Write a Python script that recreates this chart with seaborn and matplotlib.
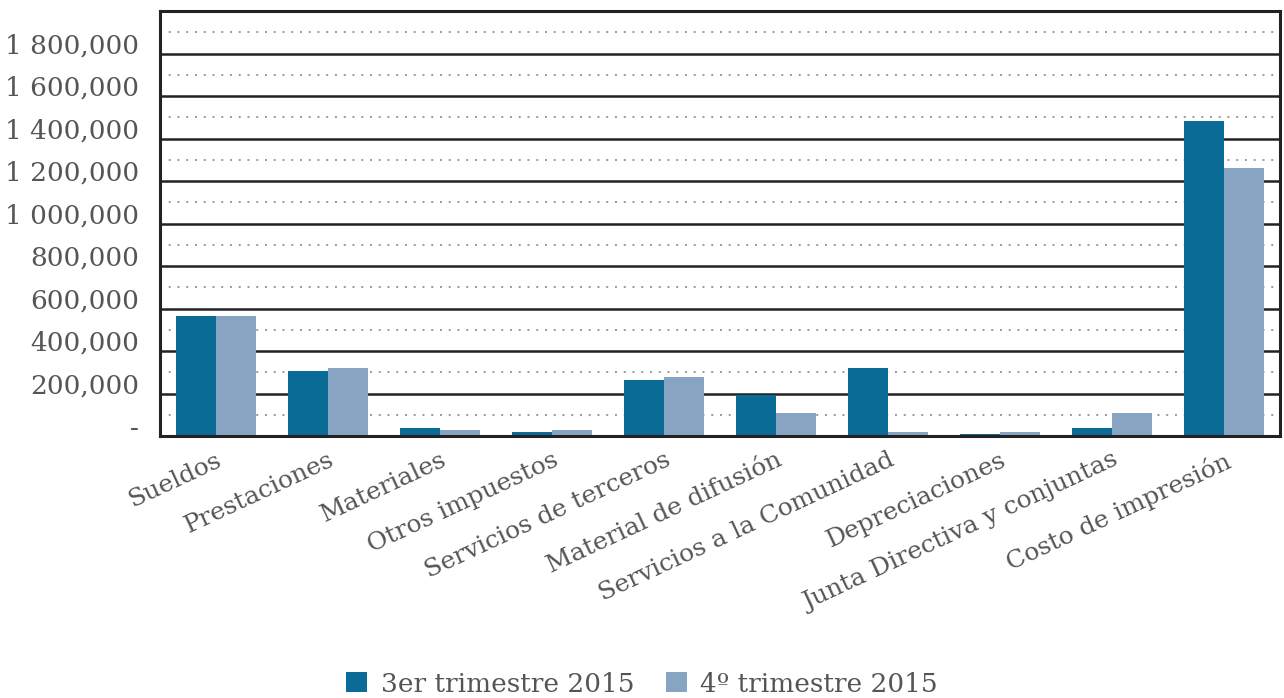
import matplotlib
matplotlib.use("Agg")
import matplotlib.pyplot as plt
import matplotlib.transforms as mtransforms
from matplotlib.ticker import MultipleLocator, FixedLocator
from matplotlib.patches import Patch
import seaborn as sns
import pandas as pd

categories = ["Sueldos", "Prestaciones", "Materiales", "Otros impuestos",
              "Servicios de terceros", "Material de difusión",
              "Servicios a la Comunidad", "Depreciaciones",
              "Junta Directiva y conjuntas", "Costo de impresión"]
series_names = ["3er trimestre 2015", "4º trimestre 2015"]
q3_values = [565000, 306000, 37000, 19000, 263000, 193000, 320000, 8000, 36000, 1482000]
q4_values = [565000, 320000, 28000, 28000, 278000, 108000, 17000, 17000, 107000, 1261000]
y_ticks = [0, 200000, 400000, 600000, 800000, 1000000, 1200000, 1400000,
           1600000, 1800000, 2000000]
y_tick_labels = ["-", "200,000", "400,000", "600,000", "800,000", "1 000,000",
                 "1 200,000", "1 400,000", "1 600,000", "1 800,000", ""]

colors = ["#0a6b97", "#87a5c2"]
text_color = "#555555"

sns.set_theme(style="white")
plt.rcParams["font.family"] = ["DejaVu Serif", "DejaVu Sans"]

df = pd.DataFrame({
    "categoria": categories * 2,
    "serie": [series_names[0]] * len(categories) + [series_names[1]] * len(categories),
    "valor": q3_values + q4_values,
})

fig = plt.figure(figsize=(12.84, 6.98), dpi=100)
ax = fig.add_axes([160 / 1284, 1 - 436 / 698, 1120 / 1284, 425 / 698])

sns.barplot(data=df, x="categoria", y="valor", hue="serie", order=categories,
            hue_order=series_names, palette=colors, width=0.714, saturation=1,
            edgecolor="none", linewidth=0, legend=False, ax=ax)

ax.set_ylim(0, 2000000)
ax.set_xlim(-0.5, len(categories) - 0.5)
ax.yaxis.set_major_locator(FixedLocator(y_ticks))
ax.set_yticklabels(y_tick_labels)
ax.yaxis.set_minor_locator(MultipleLocator(100000))
ax.set_axisbelow(True)
ax.grid(axis="y", which="major", color="#222222", linewidth=1.8, linestyle="-")
ax.grid(axis="y", which="minor", color="#999999", linewidth=1.4, linestyle=(0, (1, 3.5)))
ax.grid(axis="x", visible=False)
ax.set_xlabel("")
ax.set_ylabel("")

ax.tick_params(axis="y", which="both", length=0, pad=15, labelsize=19, labelcolor=text_color)
ax.tick_params(axis="x", length=0, pad=9, labelsize=18, labelcolor=text_color)

offset = mtransforms.ScaledTranslation(0, 10 / 100, fig.dpi_scale_trans)
for lbl in ax.get_yticklabels():
    lbl.set_transform(lbl.get_transform() + offset)

for lbl in ax.get_xticklabels():
    lbl.set_rotation(25)
    lbl.set_ha("right")
    lbl.set_rotation_mode("anchor")

for sp in ax.spines.values():
    sp.set_visible(True)
    sp.set_color("#222222")
    sp.set_linewidth(2.2)

handles = [Patch(facecolor=c, edgecolor="none") for c in colors]
fig.legend(handles, series_names, loc="center", bbox_to_anchor=(0.5, 1 - 684 / 698),
           ncol=2, frameon=False, fontsize=19, labelcolor=text_color,
           handlelength=0.8, handleheight=0.8, handletextpad=0.5, columnspacing=1.2)

fig.savefig("out.png", dpi=100)
